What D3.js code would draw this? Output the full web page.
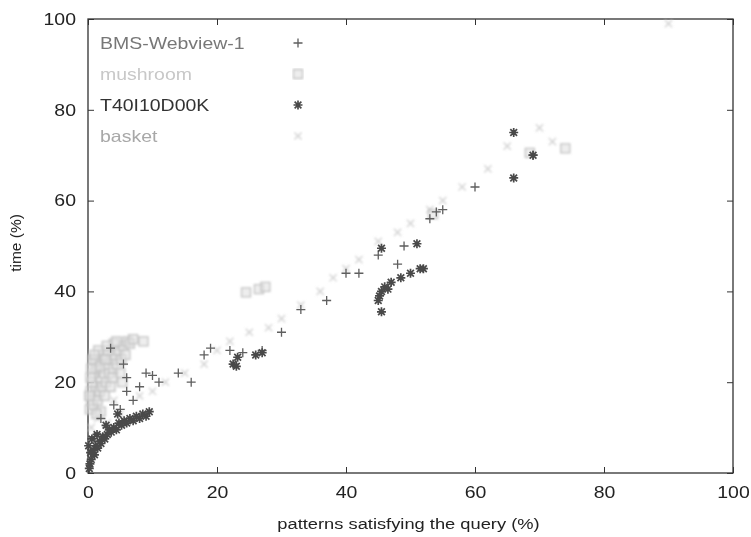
<!DOCTYPE html>
<html><head><meta charset="utf-8">
<script src="https://cdn.jsdelivr.net/npm/d3@7"></script>
<style>body{margin:0;background:#fff}svg{display:block}text{font-family:"Liberation Sans",Arial,sans-serif}</style>
</head><body>
<script>
// ---- data ----
const xTicks = [0, 20, 40, 60, 80, 100];
const yTicks = [0, 20, 40, 60, 80, 100];
const seriesNames = ["BMS-Webview-1", "mushroom", "T40I10D00K", "basket"];

const bmsX = [1, 2, 3, 4, 5, 6, 7, 6, 8, 9, 10, 11, 14, 16, 18, 19, 22, 24, 27, 30, 33, 37, 40, 42, 45, 48, 49, 53, 54, 55, 60, 69, 3.5, 5.5];
const bmsY = [8, 12, 10, 15, 14, 18, 16, 21, 19, 22, 21.5, 20, 22, 20, 26, 27.5, 27, 26.5, 27, 31, 36, 38, 44, 44, 48, 46, 50, 56, 57.5, 58, 63, 70, 27.5, 24];

const mushX = [0.3, 0.5, 0.4, 0.8, 1.0, 1.2, 0.6, 1.5, 1.8, 2.0, 0.9, 1.4, 2.2, 2.5, 2.8, 3.0, 1.7, 2.4, 3.3, 3.6, 3.9, 4.2, 4.5, 3.1, 4.8, 5.2, 5.5, 5.8, 6.1, 2.0, 1.1, 0.4, 6.5, 7.0, 8.6, 4.0, 5.0, 2.6, 3.5, 1.3, 0.2, 0.7, 1.6, 2.9, 3.8, 5.3, 0.5, 1.0, 1.9, 2.7, 4.4, 24.5, 26.5, 27.5, 53.5, 68.5, 74];
const mushY = [14, 16, 18, 15, 17, 19, 20, 16, 18, 21, 22, 23, 19, 22, 20, 24, 25, 26, 22, 25, 23, 26, 24, 27, 27, 25, 28, 26, 29, 13.5, 24.5, 21, 28.5, 29.5, 29, 28.5, 22, 17, 19, 13, 17, 25, 27, 28, 21, 20, 23, 26, 23.5, 25, 29, 39.8, 40.5, 41, 57, 70.5, 71.5];

const t40X = [0.2, 0.3, 0.5, 0.4, 0.8, 1.0, 1.2, 1.5, 1.8, 2.0, 2.3, 2.6, 3.0, 3.3, 3.6, 4.0, 4.4, 4.8, 5.2, 5.6, 6.0, 6.5, 7.0, 7.5, 8.0, 8.5, 9.0, 0.1, 0.6, 1.4, 2.8, 9.5, 4.6, 22.5, 23.2, 23.0, 26.0, 27.0, 45.0, 45.5, 46.0, 46.5, 45.2, 47.0, 45.5, 48.5, 50.0, 51.0, 51.5, 45.5, 52.0, 66.0, 66.0, 69.0];
const t40Y = [1, 2, 3, 4.5, 5, 4, 6, 5.5, 7, 6.5, 8, 7.5, 8.5, 9.5, 9, 10, 9.5, 11, 10.5, 11.5, 11, 12, 11.5, 12.5, 12, 13, 12.5, 6, 7.5, 8.5, 10.5, 13.5, 13, 24, 25.5, 23.5, 26, 26.5, 38, 40, 41, 40.5, 39, 42, 35.5, 43, 44, 50.5, 45, 49.5, 45, 75, 65, 70];

const basketX = [1, 2, 3, 5, 8, 10, 12, 15, 18, 20, 22, 25, 28, 30, 33, 36, 38, 40, 42, 45, 48, 50, 53, 55, 58, 62, 65, 70, 72, 90, 0.5, 1.5, 4];
const basketY = [5, 8, 11, 13, 17, 18, 20, 22, 24, 27, 29, 31, 32, 34, 37, 40, 43, 45, 47, 51, 53, 55, 58, 60, 63, 67, 72, 76, 73, 99, 10, 12, 16];

// ---- layout ----
const W = 751, H = 537;
const L = 88, R = 733, T = 19, B = 473;
const svg = d3.select("body").append("svg").attr("width", W).attr("height", H);
const defs = svg.append("defs");
defs.append("filter").attr("id", "soft").append("feGaussianBlur").attr("stdDeviation", 0.7);
defs.append("filter").attr("id", "softer").append("feGaussianBlur").attr("stdDeviation", 1.1);
defs.append("filter").attr("id", "scan").append("feGaussianBlur").attr("stdDeviation", 0.4);

const root = svg.append("g").attr("filter", "url(#scan)");

const x = d3.scaleLinear().domain([0, 100]).range([L, R]);
const y = d3.scaleLinear().domain([0, 100]).range([B, T]);

const axisColor = "#333";
const textColor = "#222";
const stretch = 1.18;
function widen(sel) {
  sel.each(function () {
    const len = this.getComputedTextLength();
    d3.select(this).attr("textLength", len * stretch).attr("lengthAdjust", "spacingAndGlyphs");
  });
}

// axes with mirrored inward ticks
const gx = root.append("g").attr("transform", `translate(0,${B})`)
  .call(d3.axisBottom(x).tickValues(xTicks).tickSize(-6).tickPadding(13));
const gxTop = root.append("g").attr("transform", `translate(0,${T})`)
  .call(d3.axisTop(x).tickValues(xTicks).tickSize(-6).tickFormat(""));
const gy = root.append("g").attr("transform", `translate(${L},0)`)
  .call(d3.axisLeft(y).tickValues(yTicks).tickSize(-6).tickPadding(12));
const gyR = root.append("g").attr("transform", `translate(${R},0)`)
  .call(d3.axisRight(y).tickValues(yTicks).tickSize(-6).tickFormat(""));
[gx, gxTop, gy, gyR].forEach(g => {
  g.select(".domain").remove();
  g.selectAll("line").attr("stroke", axisColor).attr("stroke-width", 1);
  g.selectAll("text").attr("fill", textColor).attr("font-size", 16.5)
    .style("font-family", '"Liberation Sans",Arial,sans-serif');
});
gx.selectAll("text").attr("dy", "0.71em").call(widen);
gy.selectAll("text").call(widen);

root.append("rect").attr("x", L).attr("y", T).attr("width", R - L).attr("height", B - T)
  .attr("fill", "none").attr("stroke", axisColor).attr("stroke-width", 1.3);

// axis titles
root.append("text").attr("x", (L + R) / 2 - 2).attr("y", 529).attr("text-anchor", "middle")
  .attr("font-size", 15.5).attr("fill", textColor).text("patterns satisfying the query (%)").call(widen);
root.append("text").attr("transform", "translate(21,243) rotate(-90)").attr("text-anchor", "middle")
  .attr("font-size", 15.5).attr("fill", textColor).text("time (%)");

// markers
const S = 4.5;
const shapes = {
  plus: `M${-S},0H${S}M0,${-S}V${S}`,
  cross: `M${-S * 0.8},${-S * 0.8}L${S * 0.8},${S * 0.8}M${-S * 0.8},${S * 0.8}L${S * 0.8},${-S * 0.8}`,
  square: `M${-S},${-S}H${S}V${S}H${-S}Z`,
  star: `M${-S},0H${S}M0,${-S}V${S}M${-S * 0.75},${-S * 0.75}L${S * 0.75},${S * 0.75}M${-S * 0.75},${S * 0.75}L${S * 0.75},${-S * 0.75}`
};
const series = [
  { name: seriesNames[3], xs: basketX, ys: basketY, shape: "cross", color: "#d2d2d2", fill: "none", w: 1.4, text: "#a8a8a8", f: "softer" },
  { name: seriesNames[1], xs: mushX, ys: mushY, shape: "square", color: "#c2c2c2", fill: "#e2e2e2", w: 1.3, text: "#c8c8c8", f: "softer" },
  { name: seriesNames[0], xs: bmsX, ys: bmsY, shape: "plus", color: "#5e5e5e", fill: "none", w: 1.3, text: "#777", f: "soft" },
  { name: seriesNames[2], xs: t40X, ys: t40Y, shape: "star", color: "#4a4a4a", fill: "none", w: 1.7, text: "#333", f: "soft" }
];

series.forEach(s => {
  root.append("g").attr("filter", `url(#${s.f})`)
    .selectAll("path").data(s.xs.map((v, i) => [v, s.ys[i]])).join("path")
    .attr("transform", d => `translate(${x(d[0])},${y(d[1])})`)
    .attr("d", shapes[s.shape]).attr("fill", s.fill).attr("fill-opacity", 0.6)
    .attr("stroke", s.color).attr("stroke-width", s.w);
});

// legend
const legendOrder = [seriesNames[0], seriesNames[1], seriesNames[2], seriesNames[3]];
const legY = [43, 74, 105, 136];
const leg = root.append("g");
legendOrder.forEach((n, i) => {
  const s = series.find(d => d.name === n);
  leg.append("text").attr("x", 100).attr("y", legY[i]).attr("dy", "0.35em")
    .attr("font-size", 16.5).attr("fill", s.text).text(n).call(widen);
  leg.append("path").attr("transform", `translate(298,${legY[i]})`).attr("d", shapes[s.shape])
    .attr("fill", s.fill).attr("fill-opacity", 0.6).attr("stroke", s.color).attr("stroke-width", s.w)
    .attr("filter", `url(#${s.f})`);
});
</script>
</body></html>
